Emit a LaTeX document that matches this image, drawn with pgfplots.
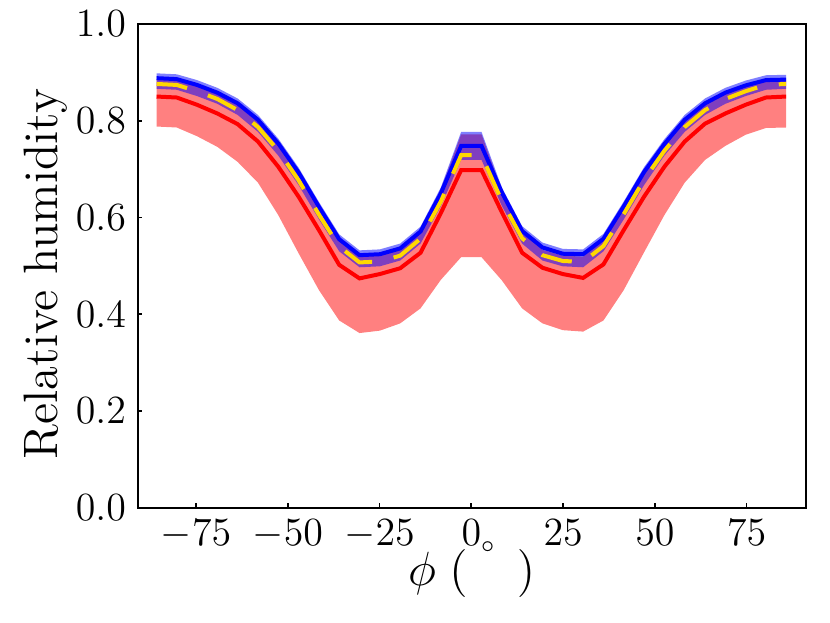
\documentclass[border=0pt]{standalone}
\usepackage{pgfplots}
\pgfplotsset{compat=1.18}
\usepgfplotslibrary{fillbetween}
\usepackage{pgfplotstable}
\definecolor{ribred}{RGB}{255,128,128}
\definecolor{gold}{RGB}{255,215,0}
\pgfplotstableread{
lat RL R RU BL B BU Y
-85.76 0.788 0.850 0.885 0.866 0.888 0.898 0.876
-80.27 0.786 0.848 0.883 0.864 0.886 0.896 0.874
-74.74 0.768 0.833 0.871 0.851 0.874 0.884 0.861
-69.21 0.746 0.815 0.855 0.835 0.858 0.868 0.845
-63.68 0.715 0.793 0.833 0.812 0.836 0.846 0.822
-58.14 0.672 0.757 0.799 0.777 0.802 0.812 0.787
-52.61 0.605 0.705 0.750 0.728 0.753 0.763 0.738
-47.07 0.526 0.643 0.690 0.667 0.693 0.703 0.677
-41.53 0.450 0.574 0.619 0.596 0.622 0.632 0.606
-36.00 0.387 0.502 0.552 0.530 0.555 0.565 0.540
-30.46 0.361 0.474 0.519 0.497 0.522 0.532 0.507
-24.92 0.366 0.483 0.521 0.499 0.524 0.534 0.509
-19.38 0.381 0.495 0.533 0.511 0.536 0.546 0.521
-13.84 0.412 0.527 0.568 0.546 0.571 0.581 0.556
-8.31 0.471 0.609 0.657 0.623 0.650 0.662 0.633
-2.77 0.518 0.698 0.772 0.719 0.748 0.777 0.729
2.77 0.518 0.698 0.772 0.719 0.748 0.777 0.729
8.31 0.470 0.611 0.656 0.624 0.652 0.662 0.634
13.84 0.412 0.527 0.568 0.546 0.572 0.582 0.557
19.38 0.381 0.496 0.533 0.511 0.538 0.548 0.522
24.92 0.367 0.483 0.521 0.499 0.525 0.535 0.510
30.46 0.364 0.475 0.519 0.497 0.524 0.534 0.508
36.00 0.387 0.503 0.552 0.530 0.556 0.566 0.541
41.53 0.450 0.574 0.619 0.596 0.623 0.633 0.607
47.07 0.528 0.643 0.690 0.667 0.694 0.704 0.678
52.61 0.605 0.705 0.750 0.728 0.752 0.762 0.738
58.14 0.672 0.757 0.799 0.777 0.802 0.812 0.787
63.68 0.719 0.794 0.833 0.812 0.836 0.846 0.822
69.21 0.748 0.815 0.855 0.835 0.858 0.868 0.845
74.74 0.771 0.833 0.871 0.851 0.873 0.883 0.861
80.27 0.785 0.848 0.883 0.864 0.884 0.894 0.874
85.76 0.786 0.850 0.883 0.866 0.885 0.895 0.876
}\data
\begin{document}
\begin{tikzpicture}
\begin{axis}[name=ax, scale only axis, width=200.4pt, height=145.1pt,
  xmin=-90.9, xmax=91.1, ymin=0, ymax=1,
  xtick={-75,-50,-25,0,25,50,75}, ytick={0,0.2,0.4,0.6,0.8,1.0},
  yticklabel style={/pgf/number format/.cd, fixed, fixed zerofill, precision=1},
  tick align=inside, xtick pos=bottom, ytick pos=left,
  major tick length=1.4pt,
  axis line style={line width=0.6pt},
  tick style={line width=0.5pt, black},
  ticklabel style={font=\fontsize{11.8}{13}\selectfont},
  label style={font=\fontsize{14.8}{17}\selectfont},
  xlabel={$\phi\;(\quad)$},
  ylabel={Relative humidity},
  xlabel shift=-6.6pt,
  ylabel shift=-4.2pt,
  ylabel style={at={(ticklabel cs:0.483)}, font=\fontsize{14.5}{17}\selectfont},
]
\addplot[name path=rl, draw=none, forget plot] table[x=lat,y=RL]{\data};
\addplot[name path=ru, draw=none, forget plot] table[x=lat,y=RU]{\data};
\addplot[fill=ribred, draw=none] fill between[of=rl and ru];
\addplot[red, line width=1.2pt] table[x=lat,y=R]{\data};
\addplot[name path=bl, draw=none, forget plot] table[x=lat,y=BL]{\data};
\addplot[name path=bu, draw=none, forget plot] table[x=lat,y=BU]{\data};
\addplot[fill=blue, fill opacity=0.5, draw=none] fill between[of=bl and bu];
\addplot[blue, line width=1.2pt] table[x=lat,y=B]{\data};
\addplot[gold, line width=1.2pt, dash pattern=on 9.3pt off 6.6pt] table[x=lat,y=Y]{\data};
\end{axis}
\node[font=\fontsize{14}{16}\selectfont, inner sep=0pt] at ([xshift=105.0pt,yshift=-11.7pt]ax.south west) {$\scriptscriptstyle\circ$};
\pgfresetboundingbox
\path[use as bounding box] ([xshift=-41.31pt,yshift=-34.59pt]ax.south west) rectangle ([xshift=7.29pt,yshift=7.2pt]ax.north east);
\end{tikzpicture}
\end{document}
